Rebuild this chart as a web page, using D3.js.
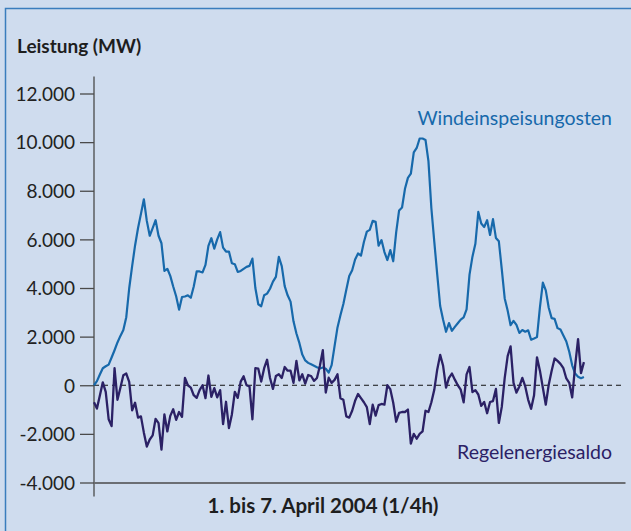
<!DOCTYPE html>
<html>
<head>
<meta charset="utf-8">
<script src="https://cdn.jsdelivr.net/npm/d3@7"></script>
<style>
	html, body { margin: 0; padding: 0; background: #cfdcee; }
	.canvas { width: 631px; height: 531px; overflow: hidden; }
	text { font-family: Lato, 'Open Sans', sans-serif; }
</style>
</head>
<body>
<div class="canvas"></div>
<script>
// hourly values, 1. - 7. April 2004 (MW)
const hours = d3.range(168);

const wind = [
	0, 170, 440, 700, 780, 850, 1140, 1440, 1760, 2030,
	2270, 2800, 3990, 4900, 5750, 6460, 7050, 7650, 6760, 6150,
	6460, 6790, 6150, 5840, 4700, 4790, 4500, 4060, 3660, 3110,
	3630, 3650, 3700, 3600, 4060, 4680, 4680, 4640, 4950, 5730,
	6050, 5620, 6000, 6300, 5660, 5500, 5500, 5020, 4980, 4660,
	4700, 4790, 4870, 4910, 5210, 4000, 3330, 3250, 3700, 3770,
	3970, 4260, 4460, 5280, 4900, 4080, 3700, 3440, 2630, 2130,
	1740, 1260, 1020, 920, 860, 800, 740, 690, 730, 680,
	520, 830, 1610, 2380, 2880, 3340, 3930, 4490, 4730, 5170,
	5420, 5330, 5890, 6320, 6390, 6760, 6720, 5740, 5970, 5480,
	5150, 5560, 5100, 6290, 7190, 7310, 8080, 8530, 8700, 9580,
	9760, 10150, 10150, 10090, 9220, 7280, 5900, 4550, 3260, 2690,
	2200, 2560, 2240, 2400, 2550, 2700, 2790, 3120, 4550, 5290,
	5820, 7130, 6650, 6510, 6790, 6180, 6830, 6060, 5920, 4770,
	3570, 3070, 2470, 2650, 2480, 2150, 2270, 2200, 2260, 1870,
	1920, 1980, 3200, 4220, 3900, 3190, 2760, 2730, 2350, 2290,
	2050, 1800, 1380, 820, 480, 350, 290, 340
];

const regel = [
	-700, -960, -420, 120, -270, -1400, -1680, 700, -600, -100,
	410, 480, 140, -1030, -720, -1330, -1280, -1950, -2520, -2230,
	-2060, -1380, -1560, -2650, -1200, -1900, -1260, -990, -1420, -1100,
	-1300, 300, 0, -100, -410, -520, -200, 0, -530, 400,
	-480, -120, -500, -200, -1600, -680, -1760, -1200, -270, -520,
	150, 370, 0, -50, -1400, 700, 680, 150, 700, 1050,
	300, -150, 380, 450, 300, 750, 600, 600, 100, 1000,
	200, 450, 70, 420, 380, 180, 300, 800, 1440, -300,
	310, 100, 220, 450, -530, -600, -1280, -1330, -1050, -640,
	-360, -530, -700, -900, -1600, -800, -1250, -820, -770, -800,
	0, -160, -720, -1500, -1140, -1100, -1100, -1000, -2400, -2000,
	-2200, -2000, -1900, -1050, -1100, -700, -180, 650, 1250, 800,
	-100, 300, 480, 230, 0, -180, -700, 450, 750, -280,
	-200, -380, -850, -690, -1150, -690, -650, -150, -1550, -890,
	300, 1200, 1600, 100, -300, -50, 300, -50, -600, -970,
	-410, 1150, 600, -100, -800, 20, 600, 1100, 1000, 880,
	700, 280, 100, -500, 800, 1900, 500, 950
];

const yTicks = [-4000, -2000, 0, 2000, 4000, 6000, 8000, 10000, 12000];
const seriesNames = ['Windeinspeisungosten', 'Regelenergiesaldo'];
const colours = ['#1769ab', '#2b2165'];

// svg
const svg = d3
	.select('.canvas')
	.append('svg')
	.attr('width', 631)
	.attr('height', 531);

svg.append('rect')
	.attr('width', 631)
	.attr('height', 531)
	.attr('fill', '#cfdcee');

// blue frame
svg.append('rect')
	.attr('x', 5.5)
	.attr('y', 8.5)
	.attr('width', 700)
	.attr('height', 600)
	.attr('fill', 'none')
	.attr('stroke', '#3a7dbd')
	.attr('stroke-width', 1.5);

// scales
const x = d3.scaleLinear().domain([0, 181]).range([94, 625]);
const y = d3.scaleLinear().domain([-4000, 12000]).range([482.5, 93.5]);

const de = d3.formatLocale({ decimal: ',', thousands: '.', grouping: [3], currency: ['', ' €'], minus: '-' });

// axes
const yAxis = d3.axisLeft(y)
	.tickValues(yTicks)
	.tickSize(14)
	.tickSizeOuter(0)
	.tickPadding(5)
	.tickFormat(de.format(',d'));

const yAxisGroup = svg.append('g')
	.attr('transform', `translate(${x(0)}, 0)`)
	.call(yAxis);

yAxisGroup.select('.domain').remove();
yAxisGroup.selectAll('line').attr('stroke', '#4a4a4a').attr('stroke-width', 1.3);
yAxisGroup.selectAll('text')
	.attr('fill', '#222')
	.style('font-size', '19px')
	.attr('dy', '0.36em');

// vertical axis line (runs a bit past both ends)
svg.append('line')
	.attr('x1', x(0)).attr('x2', x(0))
	.attr('y1', y(12000) - 17).attr('y2', y(-4000) + 14)
	.attr('stroke', '#4a4a4a')
	.attr('stroke-width', 1.3);

const xAxis = d3.axisBottom(x).tickValues([]).tickSizeOuter(0);
const xAxisGroup = svg.append('g')
	.attr('transform', `translate(0, ${y(-4000)})`)
	.call(xAxis);
xAxisGroup.select('.domain').attr('stroke', '#4a4a4a').attr('stroke-width', 1.3);

// zero line
svg.append('line')
	.attr('x1', x(0)).attr('x2', x(181))
	.attr('y1', y(0)).attr('y2', y(0))
	.attr('stroke', '#111')
	.attr('stroke-width', 1)
	.attr('stroke-dasharray', '5,4');

// lines
const line = (values) => d3.line()
	.x((d, i) => x(hours[i]))
	.y((d) => y(d))(values);

svg.append('path')
	.attr('d', line(wind))
	.attr('fill', 'none')
	.attr('stroke', colours[0])
	.attr('stroke-width', 2.2)
	.attr('stroke-linejoin', 'round');

svg.append('path')
	.attr('d', line(regel))
	.attr('fill', 'none')
	.attr('stroke', colours[1])
	.attr('stroke-width', 2.3)
	.attr('stroke-linejoin', 'round');

// labels
svg.append('text')
	.attr('x', 17)
	.attr('y', 53)
	.attr('fill', '#1e1e1e')
	.style('font-size', '19px')
	.style('font-weight', 'bold')
	.text('Leistung (MW)');

svg.append('text')
	.attr('x', 612)
	.attr('y', 125)
	.attr('text-anchor', 'end')
	.attr('fill', colours[0])
	.style('font-size', '19.5px')
	.text(seriesNames[0]);

svg.append('text')
	.attr('x', 612)
	.attr('y', 459)
	.attr('text-anchor', 'end')
	.attr('fill', colours[1])
	.style('font-size', '19.5px')
	.text(seriesNames[1]);

svg.append('text')
	.attr('x', 323)
	.attr('y', 513)
	.attr('text-anchor', 'middle')
	.attr('fill', '#1e1e1e')
	.style('font-size', '20.5px')
	.style('font-weight', 'bold')
	.text('1. bis 7. April 2004 (1/4h)');
</script>
</body>
</html>
